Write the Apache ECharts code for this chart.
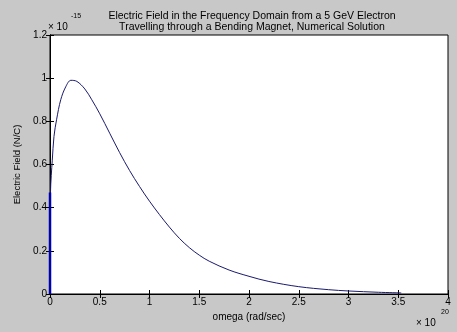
<!DOCTYPE html>
<html><head><meta charset="utf-8">
<script src="https://cdn.jsdelivr.net/npm/echarts@6/dist/echarts.min.js"></script>
<style>html,body{margin:0;padding:0;background:#c8c8c8}#c{width:457px;height:332px}</style>
</head><body><div id="c"></div>
<script>
const titleLines = ["Electric Field in the Frequency Domain from a 5 GeV Electron", "Travelling through a Bending Magnet, Numerical Solution"];
const xTicks = [0, 0.5, 1, 1.5, 2, 2.5, 3, 3.5, 4];
const yTicks = [0, 0.2, 0.4, 0.6, 0.8, 1, 1.2];
// omega (x 1e20 rad/sec)
const omega = [0, 0.005, 0.013, 0.023, 0.04, 0.067, 0.108, 0.158, 0.21, 0.27, 0.35, 0.42, 0.5, 0.6, 0.7, 0.8, 0.9, 1.0, 1.1, 1.2, 1.3, 1.4, 1.5, 1.6, 1.8, 2.0, 2.2, 2.5, 2.8, 3.0, 3.3, 3.53];
// electric field (x 1e-15 N/C)
const field = [0, 0.47, 0.55, 0.62, 0.73, 0.81, 0.90, 0.96, 0.99, 0.985, 0.95, 0.90, 0.835, 0.745, 0.655, 0.572, 0.498, 0.43, 0.368, 0.31, 0.258, 0.215, 0.18, 0.152, 0.111, 0.082, 0.058, 0.034, 0.02, 0.014, 0.008, 0.005];
const lowSegX = [0, 0];
const lowSegY = [0, 0.47];

const chart = echarts.init(document.getElementById('c'));
const font = 'Liberation Sans, Arial, sans-serif';
const fmt = v => String(Math.round(v * 10) / 10);
chart.setOption({
  backgroundColor: '#c8c8c8',
  animation: false,
  title: {
    text: titleLines.join('\n'), left: 247, top: 6, textAlign: 'center',
    textStyle: { fontFamily: font, fontSize: 10.5, fontWeight: 'normal', color: '#000', lineHeight: 11 }
  },
  grid: { left: 50, right: 9, top: 35, bottom: 38, show: true, backgroundColor: '#fff', borderColor: '#000', borderWidth: 1 },
  xAxis: [{
    type: 'value', min: 0, max: 4, interval: 0.5, position: 'bottom',
    name: 'omega (rad/sec)', nameLocation: 'middle', nameGap: 15,
    nameTextStyle: { fontFamily: font, fontSize: 10, color: '#000' },
    axisLine: { lineStyle: { color: '#000' } },
    axisTick: { inside: true, length: 4, lineStyle: { color: '#000' } },
    axisLabel: { fontFamily: font, fontSize: 10, color: '#000', margin: 3, formatter: fmt, showMaxLabel: true, showMinLabel: true },
    splitLine: { show: false }
  }, {
    type: 'value', min: 0, max: 4, interval: 0.5, position: 'top',
    axisLine: { lineStyle: { color: '#000' } },
    axisTick: { inside: true, length: 4, lineStyle: { color: '#000' } },
    axisLabel: { show: false }, splitLine: { show: false }
  }],
  yAxis: [{
    type: 'value', min: 0, max: 1.2, interval: 0.2, position: 'left',
    name: 'Electric Field (N/C)', nameLocation: 'middle', nameGap: 24,
    nameTextStyle: { fontFamily: font, fontSize: 9.5, color: '#000' },
    axisLine: { lineStyle: { color: '#000' } },
    axisTick: { inside: true, length: 4, lineStyle: { color: '#000' } },
    axisLabel: { fontFamily: font, fontSize: 10, color: '#000', margin: 3, formatter: fmt, showMaxLabel: true },
    splitLine: { show: false }
  }, {
    type: 'value', min: 0, max: 1.2, interval: 0.2, position: 'right',
    axisLine: { lineStyle: { color: '#000' } },
    axisTick: { inside: true, length: 4, lineStyle: { color: '#000' } },
    axisLabel: { show: false }, splitLine: { show: false }
  }],
  graphic: [
    { type: 'text', left: 48, top: 22, style: { text: '× 10', font: '10px ' + font, fill: '#000' } },
    { type: 'text', left: 71, top: 13, style: { text: '-15', font: '7px ' + font, fill: '#000' } },
    { type: 'text', left: 416, top: 318, style: { text: '× 10', font: '10px ' + font, fill: '#000' } },
    { type: 'text', left: 441, top: 309, style: { text: '20', font: '7px ' + font, fill: '#000' } }
  ],
  series: [{
    type: 'line', xAxisIndex: 0, yAxisIndex: 0, smooth: 0.35, symbol: 'none',
    lineStyle: { color: '#1a1a6e', width: 1 },
    data: omega.map((x, i) => [x, field[i]])
  }, {
    type: 'line', xAxisIndex: 0, yAxisIndex: 0, symbol: 'none',
    lineStyle: { color: '#0000b0', width: 2.5 },
    data: lowSegX.map((x, i) => [x, lowSegY[i]])
  }]
});
</script></body></html>
